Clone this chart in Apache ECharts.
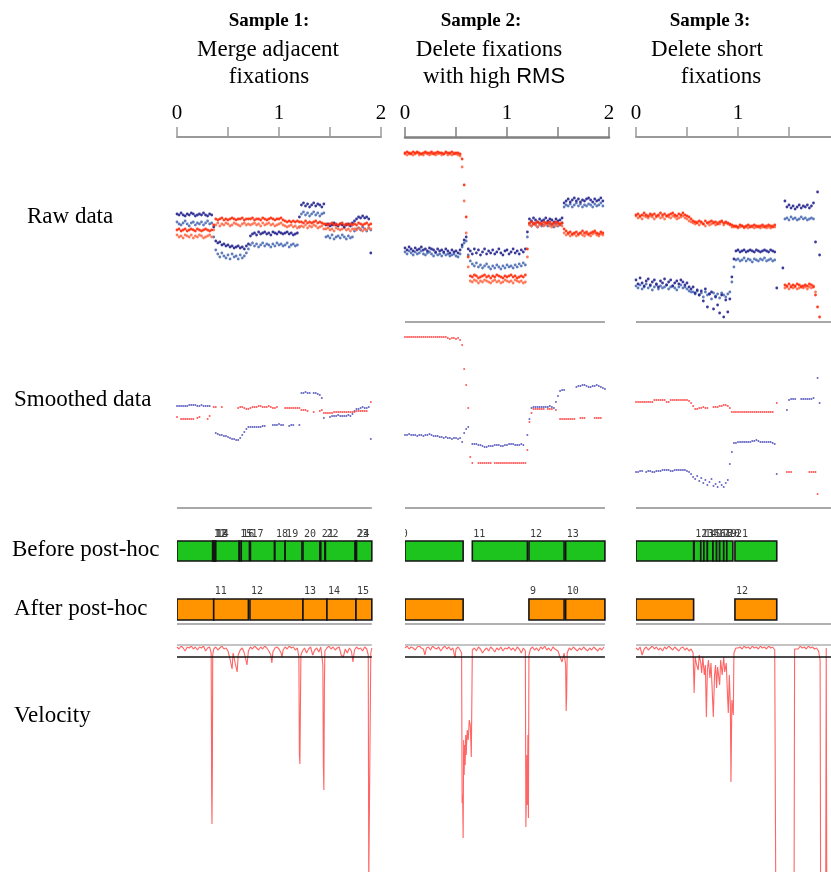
<!DOCTYPE html>
<html><head><meta charset="utf-8">
<script src="https://cdn.jsdelivr.net/npm/echarts@6/dist/echarts.min.js"></script>
<style>html,body{margin:0;padding:0;background:#fff}#c{width:831px;height:872px}</style>
</head><body><div id="c"></div>
<script>
const _ = null;
const STEP = 0.02; // sample interval of raw / smoothed gaze data (s)

// ---------- headers & labels ----------
const headerTitles = ['Sample 1:', 'Sample 2:', 'Sample 3:'];
const headerLine1 = ['Merge adjacent', 'Delete fixations', 'Delete short'];
const headerLine2 = ['fixations', 'with high {s|RMS}', 'fixations'];
const rowLabels = ['Raw data', 'Smoothed data', 'Before post-hoc', 'After post-hoc', 'Velocity'];
const timeMin = 0, timeMax = 2, timeInterval = 0.5;
const recordEnd = [1.91, 1.96, 2.0];
const velThreshold = 12;

// ---------- raw data (4 channels per sample) ----------
const raw1Navy = [77,78,76,78,79,77,78,76,77,79,78,77,78,76,78,79,77,78, 90, 104,106,105,108,107,109,108,110,109,111,110,109,111,110,112,109,107, 99,97,96,98,95,97,96,95,97,96,98,95,96,97,95,96,97,96,95,97,96,98,97,96, 80, 68,66,69,67,70,68,66,69,67,68,70,67, 88,87,89,88,86,88,89,87,88,90,88,87,89,86, 84,82,80,81,79,81,80,82,116];
const raw1Steel = [85,87,88,86,84,87,89,86,85,88,86,87,85,88,86,84,87,86, 100, 113,117,120,116,119,121,118,122,117,120,119,122,118,121,119,116,112, 108,106,109,107,110,108,106,109,107,108,110,107,109,106,108,107,109,108,106,110,108,107,109,108, 90, 77,75,78,76,79,77,75,78,76,79,77,76, 100,99,101,98,102,100,99,101,98,100,102,99,101,100, 94,92,91,93,90,92,94,91,93];
const raw1Red = [93,92,94,93,92,94,93,92,93,94,92,93,94,93,92,93,94,93, 88, 82,83,82,81,83,82,83,82,81,82,83,82,82,81,83,82,82, 82,81,83,82,82,83,81,82,83,82,81,82,83,82,82,81,83,84,85,84,85,84,85,84, 85, 85,86,84,86,85,86,85,84,86,85,86,87, 87,88,87,86,88,87,88,87,86,88,87,88,87,88, 87,88,86,87,88,87,86,88,87];
const raw1Orange = [98,100,99,101,98,99,100,98,101,99,100,98,99,101,100,99,98,100, 93, 88,86,89,87,88,86,87,89,88,86,87,88,89,87,86,88,87, 88,87,86,88,87,89,86,88,87,86,88,87,89,88,87,86,88,89,90,89,88,90,89,91, 90, 89,90,88,91,89,90,88,89,91,90,89,92, 92,91,93,92,94,91,92,93,92,91,93,92,94,92, 92,93,91,92,94,92,93,91,92];

const raw2Navy = [111,113,110,112,114,111,113,112,110,113,112,114,111,112,113,115,112,114,113,115,112,114,116,113,115,114,116,113, 108,103,100,112, 114,117,112,116,113,118,115,112,117,114,116,113,117,115,112,116,118,114,113,117,115,112,116,114,117,113,115,112, 95, 82,84,81,83,85,82,84,83,81,84,82,83,85,82,84,83,81, 66,64,62,65,63,61,64,62,65,63,64,62,61,63,65,62,64,63,61,64];
const raw2Steel = [115,117,114,116,118,115,117,116,114,117,118,116,115,117,119,116,118,117,119,116,118,117,119,118,117,119,120,117, 110,106,104,118, 124,127,129,126,130,128,131,129,127,130,132,129,131,128,130,132,129,131,128,130,129,131,128,130,127,129,126,128, 100, 87,89,86,88,90,87,89,88,86,89,87,88,90,87,89,88,86, 70,68,69,67,70,68,66,69,67,70,68,69,67,68,70,67,69,68,66,69];
const raw2Red = [16,15,16,17,15,16,15,16,17,16,15,16,16,15,17,16,15,16,16,17,15,16,16,15,17,16,16,17, 22,48,80,120, 139,140,138,139,141,140,139,138,140,139,141,139,140,138,139,140,141,139,140,139,138,140,139,141,140,139,140,138, 112, 86,85,87,86,85,86,87,85,86,86,85,87,86,85,86,87,86, 92,94,96,95,97,96,95,97,96,94,96,95,97,96,95,94,96,97,95,96];
const raw2Orange = [17,18,17,16,18,17,16,18,17,18,16,17,18,17,16,18,17,16,18,17,16,18,17,18,16,17,18,19, 30,64,96,130, 144,145,143,144,146,144,145,143,144,145,146,144,143,145,144,146,145,143,144,145,144,146,143,144,145,144,146,145, 120, 88,89,87,88,90,88,87,89,88,87,89,90,88,89,88,87,89, 96,98,97,99,98,97,99,98,96,98,99,97,98,99,97,96,98,99,97,98];

const raw3Navy = [143,147,141,146,149,144,142,148,145,143,147,150,144,146,142,148,145,143,149,146,144,147,143,145,148,146,150,152, 150,156,153,158,154,164,152,170,157,155,172,160,168,176,158,180,163,175,162, 140,122, 114,113,115,114,113,115,114,113,114,115,113,114,115,114,113,114,115,113,114,115, 151,_,_,131, 64,70,68,71,69,72,70,68,71,69,70,68,71,69,66, 105,55,118];
const raw3Steel = [149,151,148,152,150,147,151,149,153,150,148,152,149,151,150,148,152,150,149,151,153,150,148,151,150,152,154,155, 155,157,154,158,156,160,155,158,157,162,156,159,157,161,156,158,160,157,155, 145,130, 123,122,124,123,121,124,122,123,125,122,123,124,122,123,121,124,123,122,124,123, _,_,_,_, 82,81,83,80,82,81,83,82,80,82,81,83,82,81,82, _,_,_];
const raw3Red = [78,77,79,78,76,78,79,77,78,77,79,78,76,78,77,79,78,77,76,78,79,77,78,76,78,79,80,82, 84,85,86,84,85,87,84,86,85,84,86,85,87,85,84,86,85,86,87, 88,89, 89,90,88,89,90,89,88,90,89,88,89,90,89,88,90,89,88,89,90,88, _,_,_,_, 148,149,147,150,148,149,147,148,150,149,148,149,147,148,150, 158,170,180];
const raw3Orange = [79,81,80,82,79,80,81,79,80,82,80,79,81,80,82,79,80,81,79,80,82,81,80,79,81,82,84,85, 86,87,85,88,86,87,89,86,88,87,85,88,86,87,85,88,86,87,88, 90,90, 90,91,90,89,91,90,91,89,90,91,90,89,91,90,89,91,90,91,89,90, _,_,_,_, 151,150,152,149,151,150,152,151,149,151,150,152,150,151,149, 155,_,_];

// ---------- smoothed data ----------
const sm1Blue = [84,84,84,84,84,84,83,83,83,83,84,84,83,84,84,84,84, _,_, 111,112,113,113,114,114,115,116,117,117,118,118, 116,113,110,107,105, 105,105,105,105,105,105,104,104, _,_,_, 103,103,103,102,103,103, _,_, 104,103,103, _,_,103, 71,71,70,71,71,_,71,71,72, 73,76, 96, _,_,95,94, 94,94,93,94,94,94,94,93,94, 92,89,87,87,86,85,86,86,85, 117];
const sm1Red = [95,_,97,97,97,97,97,97,97,_,96,95,_,_,_,97,94, _,85,85,_,_,85,_,_,_,_,_,_,_, 86,85,85,86,87,87,86,85,85,85,84,84,85,85,85,84,85,86,86,85,_, _,_,86,86,86,86,86,86,86,86, 88,88,88,89,_,_, 90,_,_,89,88, 91,91,91,91,91, 90,90,90,90,90,90,90,90,90,90,90,89,89, 89,89,89,89,_,80];
const sm2Blue = [113,113,112,113,113,113,114,113,113,114,113,113,112,113,114,114,114,115,115,116,115,116,116,117,116,116,117,116, 120, 111,107,105, _, 122,122,122,123,123,124,125,125,124,124,124,123,123,123,124,124,123,123,122,122,122,123,123,123,122, 123,_, 113, 97, 86,85,85,85,85,85,85,85,85,84,85, 86,80,74,69, 68,68, _,_,_,_,_, 65,64,64,63,63,64,65,65,64,64,63,64,65,66,67];
const sm2Red = [15,15,15,15,15,15,15,15,15,15,15,15,15,15,15,15,15,15,15,15,15,16,17,16,16,17, 16,18, 23,47,63,86,135, 141,_,_,141,141,141,141,141,141,141,_,141,141,141,141,141,141,141,141,141,141,141,141,141,141,141,141, 128,100,91, 87,87,87,87,87,87,_,87,87,87,_, 88,_,97, 97,97,97,97,97,97,97,_,_,96,96,96,_,_,_,_,96,96,96,96,_,_];
const sm3Blue = [150,150,149,149,_,150,149,149,150,150,149,149,149,148,148,148,148,149,149,148,148,148,148,148,148,149, 150,152,155,157,154,159,156,161,158,163,160,157,164,162,165,160,163,165,161,158, 142,130,121, 121,120,120,120,120,120,120,120,119,119,118,119,120,120,120,120,120,120,121, 122,152, _,_,_,_, 88, 78,77,77,77,_,_,77,77,77,77,77,77,76,_, 56,81];
const sm3Red = [80,80,80,80,80,80,80,80,80, 78,78,78,78,78,78,80,80,78,78,78,78,78,78,78,78,78, 79,81, 84,87, 87,86,86,85,86,86, _,_, 85,85,85,84,84,83,83,84, 86, 90,90,90,90,90,90,90,90,90,90,90,90,90,90,90,90,90,90,90,90,90, _,81, _,_,_,_, 150,150,150,_,_, _,_,_,_,_,_, 150,150,150,150, 172,_];

// ---------- fixations: [label, start (s), end (s)] ----------
const fixBefore1 = [[10,-0.2,0.35],[11,0.35,0.36],[12,0.36,0.37],[13,0.37,0.38],[14,0.38,0.61],[15,0.61,0.63],[16,0.63,0.71],[17,0.72,0.955],[18,0.96,1.06],[19,1.06,1.225],[20,1.235,1.40],[21,1.41,1.45],[22,1.455,1.745],[23,1.75,1.76],[24,1.76,1.91]];
const fixAfter1 = [[10,-0.2,0.36],[11,0.36,0.70],[12,0.715,1.235],[13,1.235,1.47],[14,1.47,1.755],[15,1.755,1.91]];
const fixBefore2 = [[10,-0.1,0.57],[11,0.66,1.20],[12,1.215,1.56],[13,1.575,1.96]];
const fixAfter2 = [[8,-0.1,0.57],[9,1.215,1.56],[10,1.575,1.96]];
const fixBefore3 = [[11,-0.2,0.565],[12,0.57,0.635],[13,0.635,0.665],[14,0.665,0.70],[15,0.70,0.755],[16,0.755,0.79],[17,0.79,0.82],[18,0.82,0.86],[19,0.86,0.89],[20,0.89,0.95],[21,0.97,1.38]];
const fixAfter3 = [[11,-0.2,0.565],[12,0.97,1.38]];

// ---------- velocity: [t (s), speed] ----------
const vel1 = [[0,2],[0.02,4],[0.04,1],[0.06,3],[0.08,6],[0.10,2],[0.12,3],[0.14,1],[0.16,4],[0.18,2],[0.20,5],[0.22,2],[0.24,3],[0.26,1],[0.28,6],[0.30,3],[0.32,2],[0.335,8],[0.34,150],[0.343,179],[0.347,120],[0.35,10],[0.36,4],[0.38,2],[0.40,5],[0.42,3],[0.44,1],[0.46,4],[0.48,3],[0.50,6],[0.52,14],[0.54,24],[0.55,8],[0.57,18],[0.59,27],[0.60,10],[0.62,5],[0.64,3],[0.66,8],[0.686,20],[0.70,6],[0.72,2],[0.74,4],[0.76,1],[0.78,3],[0.80,5],[0.82,2],[0.84,4],[0.86,1],[0.88,3],[0.90,6],[0.92,10],[0.93,18],[0.94,7],[0.96,3],[0.98,2],[1.00,4],[1.02,8],[1.03,12],[1.04,5],[1.06,2],[1.08,4],[1.10,1],[1.12,3],[1.14,2],[1.16,5],[1.18,3],[1.195,12],[1.20,110],[1.205,119],[1.21,60],[1.215,10],[1.23,6],[1.25,3],[1.27,8],[1.29,4],[1.31,2],[1.33,10],[1.35,5],[1.37,3],[1.39,7],[1.41,2],[1.43,20],[1.435,120],[1.44,145],[1.445,40],[1.45,6],[1.47,3],[1.49,1],[1.51,4],[1.53,2],[1.55,5],[1.57,3],[1.59,2],[1.61,10],[1.63,12],[1.65,4],[1.67,8],[1.69,3],[1.71,6],[1.725,17],[1.74,5],[1.76,2],[1.78,4],[1.80,3],[1.82,6],[1.84,2],[1.86,4],[1.875,10],[1.88,240],[1.895,240],[1.90,8],[1.91,3]];
const vel2 = [[0,3],[0.02,1],[0.04,4],[0.06,2],[0.08,3],[0.10,5],[0.12,2],[0.14,1],[0.16,3],[0.18,4],[0.196,10],[0.21,3],[0.23,2],[0.25,5],[0.27,1],[0.29,3],[0.31,4],[0.33,2],[0.35,6],[0.37,3],[0.39,1],[0.41,4],[0.43,2],[0.45,5],[0.47,3],[0.49,13],[0.50,4],[0.52,2],[0.54,5],[0.555,8],[0.56,158],[0.565,150],[0.57,193],[0.575,95],[0.58,130],[0.585,100],[0.59,120],[0.595,90],[0.60,110],[0.61,85],[0.62,95],[0.63,75],[0.64,80],[0.65,112],[0.655,60],[0.66,5],[0.68,3],[0.70,6],[0.72,2],[0.74,4],[0.76,8],[0.78,5],[0.80,3],[0.82,6],[0.84,2],[0.86,4],[0.88,7],[0.90,3],[0.92,5],[0.94,2],[0.96,6],[0.98,3],[1.00,4],[1.02,2],[1.04,5],[1.06,3],[1.08,6],[1.10,2],[1.12,4],[1.14,8],[1.16,3],[1.18,6],[1.185,182],[1.19,150],[1.195,110],[1.20,160],[1.205,90],[1.21,173],[1.215,10],[1.23,4],[1.25,2],[1.27,5],[1.29,3],[1.31,6],[1.33,2],[1.35,4],[1.37,1],[1.39,5],[1.41,3],[1.43,6],[1.45,2],[1.47,4],[1.50,6],[1.52,12],[1.54,17],[1.56,8],[1.575,20],[1.58,66],[1.585,50],[1.59,8],[1.61,3],[1.63,5],[1.65,2],[1.67,4],[1.69,6],[1.71,3],[1.73,5],[1.75,2],[1.77,4],[1.79,6],[1.81,3],[1.83,5],[1.85,2],[1.87,4],[1.89,6],[1.91,3],[1.93,5],[1.95,2]];
const vel3 = [[0,3],[0.02,5],[0.04,2],[0.06,10],[0.08,4],[0.10,2],[0.12,5],[0.14,3],[0.16,1],[0.18,4],[0.20,2],[0.22,5],[0.24,3],[0.26,6],[0.28,2],[0.30,4],[0.32,1],[0.34,3],[0.36,5],[0.38,2],[0.40,4],[0.42,6],[0.44,3],[0.46,2],[0.48,5],[0.50,3],[0.52,6],[0.54,4],[0.56,8],[0.57,48],[0.58,12],[0.595,20],[0.61,25],[0.62,10],[0.635,18],[0.644,28],[0.655,12],[0.67,30],[0.68,20],[0.69,72],[0.70,25],[0.71,15],[0.725,33],[0.735,18],[0.745,40],[0.758,72],[0.77,30],[0.78,20],[0.79,43],[0.80,22],[0.82,40],[0.83,15],[0.845,30],[0.86,12],[0.87,27],[0.885,18],[0.895,45],[0.905,68],[0.915,30],[0.925,60],[0.931,137],[0.94,55],[0.954,70],[0.96,8],[0.98,3],[1.00,3],[1.02,2],[1.04,4],[1.06,1],[1.08,3],[1.10,2],[1.12,4],[1.14,1],[1.16,3],[1.18,2],[1.20,4],[1.22,1],[1.24,3],[1.26,2],[1.28,4],[1.30,1],[1.32,3],[1.34,2],[1.36,5],[1.37,240],[1.55,240],[1.555,4],[1.57,2],[1.59,4],[1.61,1],[1.63,3],[1.65,2],[1.67,4],[1.69,1],[1.71,3],[1.73,2],[1.75,4],[1.77,3],[1.79,6],[1.805,15],[1.81,240],[1.86,240],[1.865,3],[1.87,240]];

// ---------- build ----------
const rawSets = [[raw1Steel, raw1Orange, raw1Navy, raw1Red],[raw2Steel, raw2Orange, raw2Navy, raw2Red],[raw3Steel, raw3Orange, raw3Navy, raw3Red]];
const rawColors = ['#4d6db4', '#ff6a48', '#23238e', '#ff2a0a'];
const smSets = [[sm1Blue, sm1Red],[sm2Blue, sm2Red],[sm3Blue, sm3Red]];
const smColors = ['#4a4ab8', '#ff3a3a'];
const fixSets = [[fixBefore1, fixAfter1],[fixBefore2, fixAfter2],[fixBefore3, fixAfter3]];
const velSets = [vel1, vel2, vel3];

const LEFT = [177, 405, 636], W = 204;
const SERIF = '"Liberation Serif", "DejaVu Serif", serif';

function samples(arr) {
  const out = [];
  arr.forEach((v, i) => { if (v !== null) out.push([+(i * STEP).toFixed(3), v]); });
  return out;
}
function hline(v, tEnd, color, width) {
  return [{ coord: [0, v], lineStyle: { color, width, type: 'solid' } }, { coord: [tEnd, v] }];
}
function markLines(lines) {
  return { symbol: 'none', silent: true, animation: false, label: { show: false }, data: lines };
}

const grids = [], xAxes = [], yAxes = [], series = [];
function addGrid(c, top, height, yMax, topAxis) {
  const gi = grids.length;
  grids.push({ left: LEFT[c], top, width: W, height, containLabel: false, outerBoundsMode: 'none' });
  if (topAxis) {
    xAxes.push({ gridIndex: gi, type: 'value', position: 'top', min: timeMin, max: timeMax, interval: timeInterval,
      axisLine: { show: true, onZero: false, lineStyle: { color: c === 1 ? '#808080' : '#9a9a9a', width: c === 1 ? 2.5 : 2 } },
      axisTick: { show: true, length: 10, lineStyle: { color: c === 1 ? '#808080' : '#9a9a9a', width: 1.5 } },
      axisLabel: { show: true, margin: 13, showMinLabel: true, showMaxLabel: true,
        formatter: v => Number.isInteger(v) ? String(v) : '', fontFamily: SERIF, fontSize: 21, color: '#000' },
      splitLine: { show: false } });
  } else {
    xAxes.push({ gridIndex: gi, type: 'value', min: timeMin, max: timeMax, show: false });
  }
  yAxes.push({ gridIndex: gi, type: 'value', min: 0, max: yMax, inverse: true, show: false });
  return gi;
}

const GREEN = '#1ec41e', ORANGE = '#ff9300';
function fixRender(row) {
  return function (params, api) {
    const yc = row === 0 ? 27 : 85.5;
    const h = api.size([0, row === 0 ? 20 : 21])[1];
    const s = Math.max(api.value(1), 0);
    const p0 = api.coord([s, yc]);
    const p1 = api.coord([api.value(2), yc]);
    const lp = api.coord([api.value(1), row === 0 ? 10 : 67]);
    return { type: 'group', children: [
      { type: 'rect', shape: { x: p0[0], y: p0[1] - h / 2, width: Math.max(p1[0] - p0[0], 0.5), height: h },
        style: { fill: row === 0 ? GREEN : ORANGE, stroke: '#151515', lineWidth: 1.6 } },
      { type: 'text', x: lp[0] + 1, y: lp[1],
        style: { text: String(api.value(0)), font: '10px "DejaVu Sans Mono", monospace', fill: '#3a3a3a', textVerticalAlign: 'middle' } }
    ]};
  };
}

for (let c = 0; c < 3; c++) {
  const tEnd = recordEnd[c];
  let gi = addGrid(c, 137, 185, 185, true);
  rawSets[c].forEach((arr, k) => {
    const s = { type: 'scatter', xAxisIndex: gi, yAxisIndex: gi, symbolSize: 2.8, silent: true,
      itemStyle: { color: rawColors[k], opacity: 0.9 }, data: samples(arr) };
    if (k === 0 && c > 0) s.markLine = markLines([hline(185, tEnd, '#a8a8a8', 2)]);
    series.push(s);
  });
  gi = addGrid(c, 322, 186, 186, false);
  smSets[c].forEach((arr, k) => {
    const s = { type: 'scatter', xAxisIndex: gi, yAxisIndex: gi, symbolSize: 2, silent: true,
      itemStyle: { color: smColors[k], opacity: 0.85 }, data: samples(arr) };
    if (k === 0) s.markLine = markLines([hline(186, tEnd, '#a8a8a8', 2)]);
    series.push(s);
  });
  gi = addGrid(c, 524, 100, 100, false);
  fixSets[c].forEach((arr, row) => {
    series.push({ type: 'custom', xAxisIndex: gi, yAxisIndex: gi, clip: true, silent: true,
      renderItem: fixRender(row), encode: { x: [1, 2] }, data: arr });
  });
  series.push({ type: 'line', xAxisIndex: gi, yAxisIndex: gi, data: [], silent: true,
    markLine: markLines([hline(99.5, tEnd, '#b0b0b0', 2)]) });
  gi = addGrid(c, 645, 227, 227, false);
  series.push({ type: 'line', xAxisIndex: gi, yAxisIndex: gi, data: velSets[c], showSymbol: false, silent: true,
    clip: true, lineStyle: { color: '#ff4a4a', width: 1.1, opacity: 0.85 },
    markLine: markLines([hline(0, tEnd, '#c4c4c4', 2), hline(velThreshold, tEnd, '#111', 1.6)]) });
}

// ---------- text ----------
const titleX = [269, 481, 710];
const line1X = [268, 489, 707];
const line2X = [269, 494, 721];
const graphics = [];
for (let c = 0; c < 3; c++) {
  graphics.push({ type: 'text', x: titleX[c], y: 21, silent: true,
    style: { text: headerTitles[c], font: 'bold 19px ' + SERIF, fill: '#000', textAlign: 'center', textVerticalAlign: 'middle' } });
  graphics.push({ type: 'text', x: line1X[c], y: 50, silent: true,
    style: { text: headerLine1[c], font: '23px ' + SERIF, fill: '#000', textAlign: 'center', textVerticalAlign: 'middle' } });
  graphics.push({ type: 'text', x: line2X[c], y: 77, silent: true,
    style: { text: headerLine2[c], font: '23px ' + SERIF, fill: '#000', textAlign: 'center', textVerticalAlign: 'middle',
      rich: { s: { fontFamily: '"Liberation Sans", Arial, sans-serif', fontSize: 22 } } } });
}
const rowLabelPos = [[27, 217], [14, 400], [12, 550], [14, 609], [14, 716]];
rowLabels.forEach((t, i) => {
  graphics.push({ type: 'text', x: rowLabelPos[i][0], y: rowLabelPos[i][1], silent: true,
    style: { text: t, font: '23px ' + SERIF, fill: '#000', textAlign: 'left', textVerticalAlign: 'middle' } });
});

const chart = echarts.init(document.getElementById('c'), null, { renderer: 'canvas' });
chart.setOption({
  animation: false,
  backgroundColor: '#fff',
  grid: grids, xAxis: xAxes, yAxis: yAxes, series,
  graphic: { elements: graphics }
});
</script></body></html>
